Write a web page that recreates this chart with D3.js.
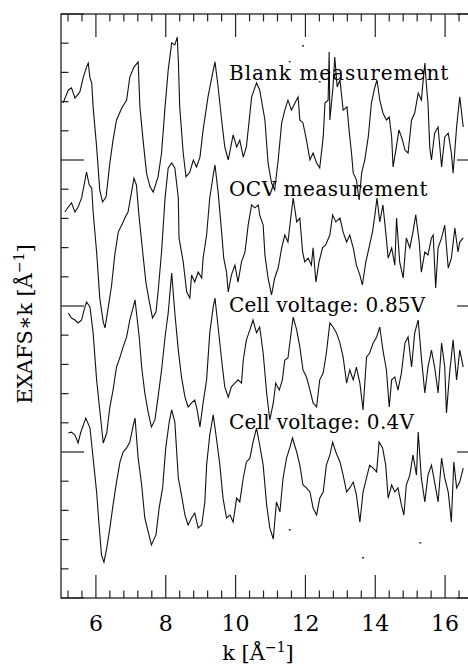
<!DOCTYPE html>
<html>
<head>
<meta charset="utf-8">
<script src="https://cdn.jsdelivr.net/npm/d3@7/dist/d3.min.js"></script>
<style>
  html, body { margin: 0; padding: 0; background: #fff; }
  svg { display: block; }
  text { font-family: "DejaVu Serif", "Liberation Serif", serif; fill: #000; }
</style>
</head>
<body>
<div id="chart"></div>
<script>
// ---- data (k in Å^-1, EXAFS*k in arbitrary offset units) ----
const xTickLabels = [6, 8, 10, 12, 14, 16];
const yMajorTicks = [0, 5, 10, 15, 20];

const seriesNames = ["Blank measurement", "OCV measurement", "Cell voltage: 0.85V", "Cell voltage: 0.4V"];

const blank = [[5.06,16.95],[5.21,17.40],[5.30,17.47],[5.40,17.12],[5.54,17.33],[5.64,17.84],[5.73,18.18],[5.78,18.32],[5.83,17.81],[5.88,17.64],[5.92,16.82],[6.02,15.45],[6.11,13.97],[6.19,13.56],[6.29,13.73],[6.40,14.90],[6.49,15.68],[6.59,16.37],[6.74,16.78],[6.88,17.05],[6.97,17.84],[7.09,18.18],[7.21,18.36],[7.26,16.82],[7.35,15.68],[7.45,14.55],[7.55,14.08],[7.64,13.90],[7.78,14.42],[7.88,15.24],[7.98,16.82],[8.07,18.08],[8.17,19.01],[8.26,18.94],[8.33,19.21],[8.36,18.42],[8.40,16.82],[8.50,15.24],[8.58,14.42],[8.69,14.59],[8.79,15.00],[8.88,14.76],[8.98,15.10],[9.07,16.03],[9.21,17.16],[9.36,18.08],[9.41,18.36],[9.50,17.50],[9.60,16.37],[9.69,15.45],[9.79,15.00],[9.93,15.86],[10.03,15.45],[10.12,15.68],[10.22,15.10],[10.31,15.45],[10.46,17.16],[10.60,17.64],[10.69,17.40],[10.84,16.37],[10.93,14.90],[11.03,14.21],[11.12,13.97],[11.22,15.00],[11.32,16.27],[11.41,16.71],[11.50,17.05],[11.60,16.71],[11.70,16.95],[11.79,17.16],[11.84,16.37],[11.93,16.27],[12.03,15.68],[12.13,15.00],[12.22,15.24],[12.32,14.90],[12.41,14.73],[12.51,15.79],[12.56,16.95],[12.65,17.05],[12.68,18.70],[12.70,16.37],[12.79,17.50],[12.84,18.53],[12.91,17.50],[12.99,17.74],[13.08,16.71],[13.19,16.82],[13.25,16.03],[13.32,15.24],[13.37,14.55],[13.46,14.32],[13.54,13.63],[13.61,14.55],[13.70,15.00],[13.80,15.79],[13.89,16.95],[13.99,17.50],[14.05,17.74],[14.13,17.05],[14.22,16.61],[14.32,16.37],[14.40,16.47],[14.47,15.79],[14.51,14.76],[14.59,15.34],[14.68,16.03],[14.78,15.68],[14.85,15.34],[14.94,15.24],[15.04,16.37],[15.13,16.61],[15.23,17.29],[15.32,17.05],[15.42,18.32],[15.47,17.50],[15.51,16.95],[15.56,15.45],[15.61,15.00],[15.70,15.92],[15.80,16.13],[15.90,14.76],[15.99,15.79],[16.09,15.92],[16.18,15.24],[16.23,14.55],[16.33,16.13],[16.42,17.16],[16.52,16.13]];

const ocv = [[5.11,13.22],[5.21,13.39],[5.30,13.53],[5.40,13.22],[5.49,13.39],[5.59,13.70],[5.68,14.25],[5.73,14.59],[5.81,14.14],[5.88,14.04],[5.92,13.22],[6.02,11.85],[6.11,10.27],[6.21,9.45],[6.26,9.25],[6.35,9.93],[6.45,10.72],[6.54,11.75],[6.64,12.53],[6.74,12.77],[6.83,13.01],[6.92,13.22],[7.02,13.90],[7.09,14.38],[7.16,14.14],[7.24,13.01],[7.34,11.85],[7.43,10.82],[7.53,10.14],[7.62,9.59],[7.72,9.79],[7.78,10.48],[7.88,11.85],[7.98,13.70],[8.07,14.73],[8.17,14.90],[8.26,14.73],[8.36,13.70],[8.38,12.33],[8.50,11.51],[8.60,10.48],[8.69,10.27],[8.74,11.06],[8.83,10.82],[8.93,11.16],[9.03,10.96],[9.07,11.64],[9.17,12.43],[9.26,13.70],[9.36,14.49],[9.41,14.83],[9.50,13.90],[9.60,12.53],[9.66,11.64],[9.74,11.16],[9.79,10.48],[9.88,11.06],[9.98,11.40],[10.07,10.82],[10.17,11.51],[10.27,11.85],[10.36,12.77],[10.46,13.46],[10.55,13.36],[10.65,13.46],[10.69,13.12],[10.79,12.77],[10.84,11.75],[10.93,10.96],[11.03,10.38],[11.12,10.96],[11.22,11.30],[11.32,11.99],[11.41,12.43],[11.50,12.19],[11.60,13.22],[11.65,13.70],[11.75,12.88],[11.84,13.01],[11.92,11.85],[11.98,11.51],[12.08,11.64],[12.17,11.40],[12.22,11.99],[12.30,10.82],[12.39,11.51],[12.49,11.99],[12.58,12.09],[12.70,12.43],[12.78,13.12],[12.87,12.88],[12.99,13.01],[13.08,12.53],[13.18,12.19],[13.27,12.43],[13.37,11.99],[13.46,11.40],[13.56,11.06],[13.63,10.72],[13.73,11.51],[13.82,11.99],[13.92,12.53],[13.99,13.12],[14.05,13.70],[14.13,12.88],[14.22,13.46],[14.30,12.53],[14.37,11.64],[14.47,11.99],[14.56,11.40],[14.61,13.01],[14.70,11.51],[14.80,10.96],[14.89,12.33],[14.99,11.99],[15.08,12.53],[15.16,13.12],[15.26,12.19],[15.32,11.16],[15.42,11.85],[15.51,11.75],[15.61,12.33],[15.66,12.43],[15.73,10.62],[15.80,11.99],[15.90,12.33],[15.99,12.77],[16.09,11.30],[16.18,11.64],[16.28,12.67],[16.37,11.85],[16.42,12.19],[16.52,12.33]];

const cell085 = [[5.21,9.76],[5.30,9.59],[5.40,9.52],[5.49,9.42],[5.59,9.52],[5.66,9.86],[5.73,10.14],[5.83,9.97],[5.92,9.08],[6.02,7.47],[6.11,6.44],[6.21,5.31],[6.31,5.65],[6.40,6.54],[6.49,7.12],[6.59,7.91],[6.69,8.25],[6.78,8.60],[6.88,8.94],[6.97,9.52],[7.07,9.97],[7.12,10.21],[7.24,8.94],[7.31,7.91],[7.40,7.02],[7.50,6.34],[7.59,5.86],[7.69,6.10],[7.78,6.88],[7.88,7.81],[7.98,8.94],[8.07,9.76],[8.17,11.13],[8.26,9.76],[8.36,8.49],[8.45,7.57],[8.55,6.88],[8.64,6.54],[8.74,6.68],[8.83,6.78],[8.90,6.44],[8.98,5.86],[9.07,6.68],[9.17,7.47],[9.26,9.08],[9.36,9.97],[9.41,10.27],[9.50,9.28],[9.60,8.15],[9.69,7.23],[9.79,6.88],[9.88,7.23],[9.98,7.36],[10.07,7.47],[10.17,7.36],[10.22,8.15],[10.31,8.84],[10.41,9.18],[10.50,9.52],[10.60,9.08],[10.69,9.28],[10.79,8.39],[10.89,7.02],[10.98,6.10],[11.08,6.68],[11.15,7.36],[11.25,7.12],[11.34,7.47],[11.41,8.15],[11.50,8.22],[11.60,9.18],[11.65,9.62],[11.75,9.18],[11.84,8.60],[11.93,7.81],[12.03,7.57],[12.13,7.12],[12.22,6.68],[12.32,6.54],[12.41,7.47],[12.51,7.71],[12.60,8.39],[12.70,9.42],[12.79,9.28],[12.89,9.08],[12.99,8.73],[13.08,8.25],[13.18,7.36],[13.27,7.81],[13.37,7.47],[13.46,7.91],[13.56,7.36],[13.65,6.44],[13.75,8.25],[13.84,8.39],[13.94,8.73],[14.04,8.94],[14.13,9.28],[14.22,8.49],[14.32,7.81],[14.40,6.54],[14.47,7.47],[14.56,7.57],[14.65,7.12],[14.75,7.71],[14.85,8.73],[14.94,8.94],[15.04,7.91],[15.13,9.08],[15.23,9.52],[15.32,8.25],[15.42,7.02],[15.51,7.91],[15.61,8.49],[15.70,7.91],[15.80,7.02],[15.90,8.73],[15.99,7.91],[16.04,6.34],[16.13,7.71],[16.23,8.84],[16.33,7.47],[16.42,8.49],[16.52,7.91]];

const cell04 = [[5.21,5.65],[5.30,5.68],[5.40,5.58],[5.49,5.31],[5.56,5.65],[5.64,5.92],[5.71,6.16],[5.83,5.82],[5.92,4.79],[6.02,3.63],[6.09,2.50],[6.16,1.47],[6.23,1.23],[6.31,1.71],[6.40,2.40],[6.49,3.18],[6.59,3.97],[6.69,4.66],[6.78,5.00],[6.88,5.14],[6.97,5.34],[7.07,5.92],[7.12,6.16],[7.21,4.79],[7.31,3.87],[7.40,2.74],[7.50,2.26],[7.59,1.82],[7.72,2.16],[7.81,3.08],[7.91,3.77],[8.00,5.14],[8.10,6.03],[8.17,6.44],[8.26,6.03],[8.36,4.11],[8.45,3.53],[8.55,2.84],[8.64,2.50],[8.74,2.74],[8.83,2.91],[8.93,2.40],[9.03,2.50],[9.12,3.29],[9.17,4.55],[9.26,5.58],[9.36,6.27],[9.45,5.48],[9.55,4.55],[9.64,3.42],[9.74,2.74],[9.84,2.84],[9.93,2.60],[10.03,3.42],[10.12,3.29],[10.22,4.11],[10.31,4.66],[10.41,4.79],[10.50,5.34],[10.60,5.82],[10.69,5.24],[10.79,4.55],[10.89,3.18],[10.98,2.40],[11.08,2.02],[11.17,3.29],[11.27,2.95],[11.36,4.11],[11.46,4.79],[11.55,5.14],[11.63,5.48],[11.75,5.00],[11.84,4.55],[11.93,3.87],[12.03,3.77],[12.13,3.63],[12.22,3.08],[12.32,2.84],[12.41,3.42],[12.51,3.63],[12.60,4.55],[12.70,4.90],[12.78,5.34],[12.87,5.00],[12.99,4.66],[13.08,4.21],[13.18,3.63],[13.27,3.77],[13.37,3.97],[13.46,3.53],[13.56,2.60],[13.65,3.63],[13.75,4.11],[13.84,4.55],[13.94,4.45],[14.04,4.32],[14.11,5.34],[14.21,5.14],[14.30,4.55],[14.37,3.42],[14.47,3.87],[14.56,3.63],[14.65,3.77],[14.75,3.18],[14.82,2.84],[14.89,3.87],[14.99,4.21],[15.08,4.90],[15.18,4.21],[15.23,5.68],[15.32,4.11],[15.42,3.29],[15.51,4.21],[15.61,4.55],[15.70,3.97],[15.80,3.29],[15.90,4.79],[15.99,4.11],[16.09,3.63],[16.18,2.60],[16.25,4.66],[16.33,3.77],[16.42,3.97],[16.52,4.45]];

// stray single data points (outliers) visible in the plot
const strayPoints = [[11.55,2.33],[13.65,1.37],[15.29,1.88],[11.93,18.90],[12.41,17.67],[11.55,18.36]];

// label anchor positions in data units (k, value)
const labelPos = [[9.81, 17.74], [9.81, 13.76], [9.81, 9.79], [9.81, 5.79]];

// ---- drawing ----
const W = 468, H = 665;
const svg = d3.select("#chart").append("svg").attr("width", W).attr("height", H);
svg.append("rect").attr("width", W).attr("height", H).attr("fill", "#fff");

const x = d3.scaleLinear().domain([5, 17]).range([61, 480]);
const y = d3.scaleLinear().domain([0, 20]).range([598, 14]);

svg.append("clipPath").attr("id", "plotclip")
  .append("rect").attr("x", x(5)).attr("y", y(20)).attr("width", x(17) - x(5)).attr("height", y(0) - y(20));

const line = d3.line().x(d => x(d[0])).y(d => y(d[1]));
const plot = svg.append("g").attr("clip-path", "url(#plotclip)");
[blank, ocv, cell085, cell04].forEach(s => {
  plot.append("path").datum(s).attr("d", line)
    .attr("fill", "none").attr("stroke", "#111").attr("stroke-width", 1.1)
    .attr("stroke-linejoin", "miter");
});
plot.selectAll("rect.stray").data(strayPoints).join("rect")
  .attr("x", d => x(d[0]) - 1).attr("y", d => y(d[1]) - 1)
  .attr("width", 2).attr("height", 1.5).attr("fill", "#333");

// frame
const axisColor = "#222";
svg.append("rect").attr("x", x(5)).attr("y", y(20))
  .attr("width", x(17) - x(5)).attr("height", y(0) - y(20))
  .attr("fill", "none").attr("stroke", axisColor).attr("stroke-width", 1.3);

const majLen = 23, minLen = 7.5;
const xMinor = d3.range(5.2, 17.0, 0.4).filter(v => Math.abs(v / 2 - Math.round(v / 2)) > 0.01);
const yMinor = d3.range(1, 20, 1).filter(v => v % 5 !== 0);
const tg = svg.append("g").attr("stroke", axisColor).attr("stroke-width", 1.2);
xTickLabels.forEach(v => {
  tg.append("line").attr("x1", x(v)).attr("x2", x(v)).attr("y1", y(0)).attr("y2", y(0) - majLen);
  tg.append("line").attr("x1", x(v)).attr("x2", x(v)).attr("y1", y(20)).attr("y2", y(20) + majLen);
});
xMinor.forEach(v => {
  tg.append("line").attr("x1", x(v)).attr("x2", x(v)).attr("y1", y(0)).attr("y2", y(0) - minLen);
  tg.append("line").attr("x1", x(v)).attr("x2", x(v)).attr("y1", y(20)).attr("y2", y(20) + minLen);
});
yMajorTicks.forEach(v => {
  tg.append("line").attr("x1", x(5)).attr("x2", x(5) + majLen).attr("y1", y(v)).attr("y2", y(v));
  tg.append("line").attr("x1", x(17)).attr("x2", x(17) - majLen).attr("y1", y(v)).attr("y2", y(v));
});
yMinor.forEach(v => {
  tg.append("line").attr("x1", x(5)).attr("x2", x(5) + minLen).attr("y1", y(v)).attr("y2", y(v));
  tg.append("line").attr("x1", x(17)).attr("x2", x(17) - minLen).attr("y1", y(v)).attr("y2", y(v));
});

// tick labels
svg.selectAll("text.xt").data(xTickLabels).join("text")
  .attr("x", d => x(d)).attr("y", 631)
  .attr("text-anchor", "middle").attr("font-size", 22)
  .text(d => d);

// series labels
const labelSpacing = [1, 0.5, 0.2, 0.3];
seriesNames.forEach((name, i) => {
  svg.append("text").attr("x", x(labelPos[i][0])).attr("y", y(labelPos[i][1]))
    .attr("font-size", 20).attr("letter-spacing", labelSpacing[i]).text(name);
});

// axis titles
const xt = svg.append("text").attr("x", 258).attr("y", 660)
  .attr("text-anchor", "middle").attr("font-size", 21);
xt.append("tspan").text("k [Å");
xt.append("tspan").attr("font-size", 14).attr("dy", -8).text("−1");
xt.append("tspan").attr("dy", 8).text("]");

const yt = svg.append("text").attr("transform", "translate(32,324) rotate(-90)")
  .attr("text-anchor", "middle").attr("font-size", 21);
yt.append("tspan").text("EXAFS∗k [Å");
yt.append("tspan").attr("font-size", 14).attr("dy", -8).text("−1");
yt.append("tspan").attr("dy", 8).text("]");
</script>
</body>
</html>
